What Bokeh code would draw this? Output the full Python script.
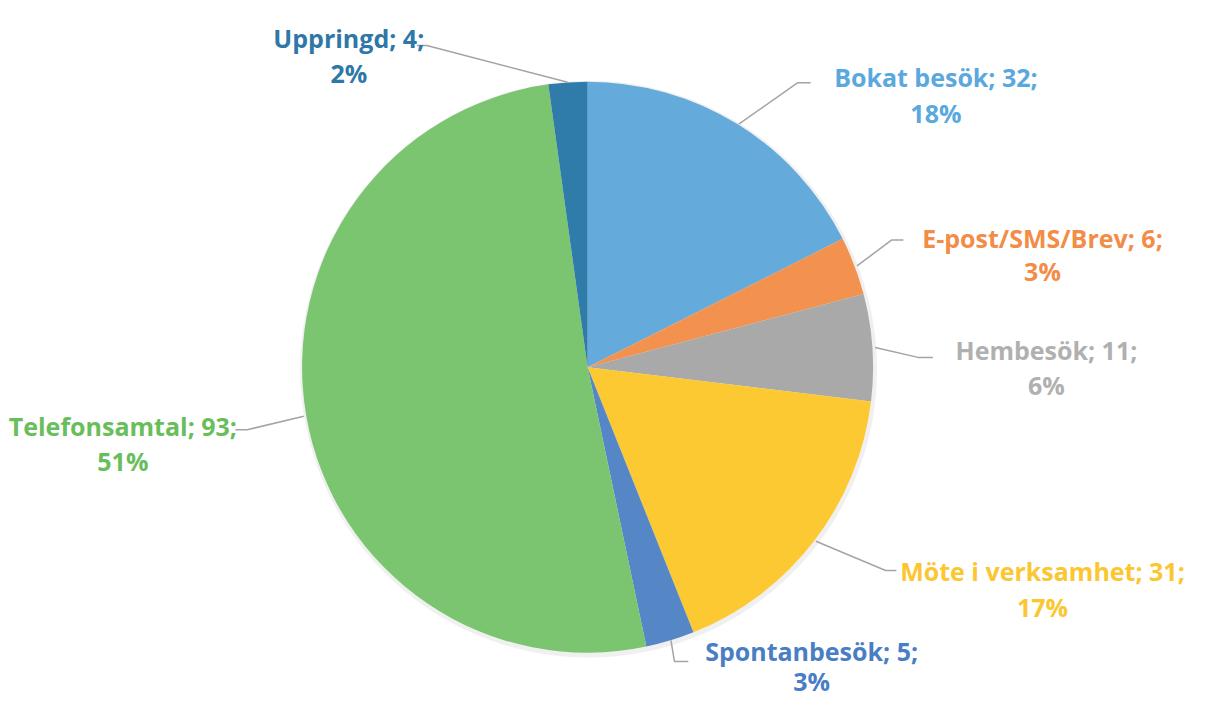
import math
from bokeh.plotting import figure
from bokeh.models import Range1d, ColumnDataSource
from bokeh.core.properties import value
from bokeh.embed import file_html
from bokeh.resources import INLINE

# ---- data ----
categories = ["Bokat besök", "E-post/SMS/Brev", "Hembesök", "Möte i verksamhet",
              "Spontanbesök", "Telefonsamtal", "Uppringd"]
counts = [32, 6, 11, 31, 5, 93, 4]
percents = ["18%", "3%", "6%", "17%", "3%", "51%", "2%"]

# ---- styles ----
slice_colors = ["#64AADB", "#F3924F", "#A9A9A9", "#FDC933", "#5587C7", "#7BC470", "#2F7CAB"]
text_colors = ["#5AA8DD", "#F38C46", "#B0B0B0", "#FCC630", "#4A7EC4", "#68BE5B", "#2E78A8"]

W, H = 1206, 720          # reference frame
FW, FH = 1190, 704        # figure size in page
SY = FH / H
CX, CY, R = 595, 375, 292  # pie center / radius in reference pixels

def Y(py):
    return H - py

# label layout: (center x, baseline line1, baseline line2), elbow, end of leader
label_pos = [(948, 78, 115), (1056, 243, 277), (1060, 357, 393), (1056, 583, 620),
             (822, 665, 696), (124, 435, 471), (353, 38, 74)]
elbows = [(808, 84), (903, 245), (930, 365), (897, 583), (683, 676), (250, 439), (432, 46)]
ends = [(821, 84), (915, 245), (945, 365), (908, 583), (697, 676), (238, 439), (422, 46)]

p = figure(width=FW, height=FH, output_backend="svg", toolbar_location=None,
           x_range=Range1d(0, W), y_range=Range1d(0, H), min_border=0,
           outline_line_color=None)
p.axis.visible = False
p.grid.visible = False
p.background_fill_color = "white"
p.border_fill_color = "white"

total = sum(counts)
starts, stops, mids = [], [], []
cum = 0
for c in counts:
    a0 = math.pi / 2 - cum / total * 2 * math.pi
    cum += c
    a1 = math.pi / 2 - cum / total * 2 * math.pi
    starts.append(a0)
    stops.append(a1)
    mids.append((a0 + a1) / 2)

# faint shadow
p.circle(x=[CX + 1], y=[Y(CY) - 2], radius=(R + 3) * SY, radius_units="screen",
         fill_color="#000000", fill_alpha=0.06, line_color=None)

src = ColumnDataSource(dict(cat=categories, n=counts, start=starts, stop=stops, color=slice_colors))
p.wedge(x=CX, y=Y(CY), radius=R * SY, radius_units="screen", start_angle="start", end_angle="stop",
        direction="clock", fill_color="color", line_color=None, source=src)

# leader lines
for i, m in enumerate(mids):
    ex = CX + R * math.cos(m)
    ey = Y(CY) + R * math.sin(m)
    xs = [ex, elbows[i][0], ends[i][0]]
    ys = [ey, Y(elbows[i][1]), Y(ends[i][1])]
    p.line(xs, ys, line_color="#A9A2A2", line_width=1.5)

# labels
for i, cat in enumerate(categories):
    cx, b1, b2 = label_pos[i]
    p.text(x=[cx, cx], y=[Y(b1), Y(b2)], text=[f"{cat}; {counts[i]};", percents[i]],
           text_font=value("Open Sans"), text_font_style="bold", text_font_size="25px",
           text_color=text_colors[i], text_align="center", text_baseline="alphabetic")

open("out.html", "w").write(file_html(p, INLINE))
